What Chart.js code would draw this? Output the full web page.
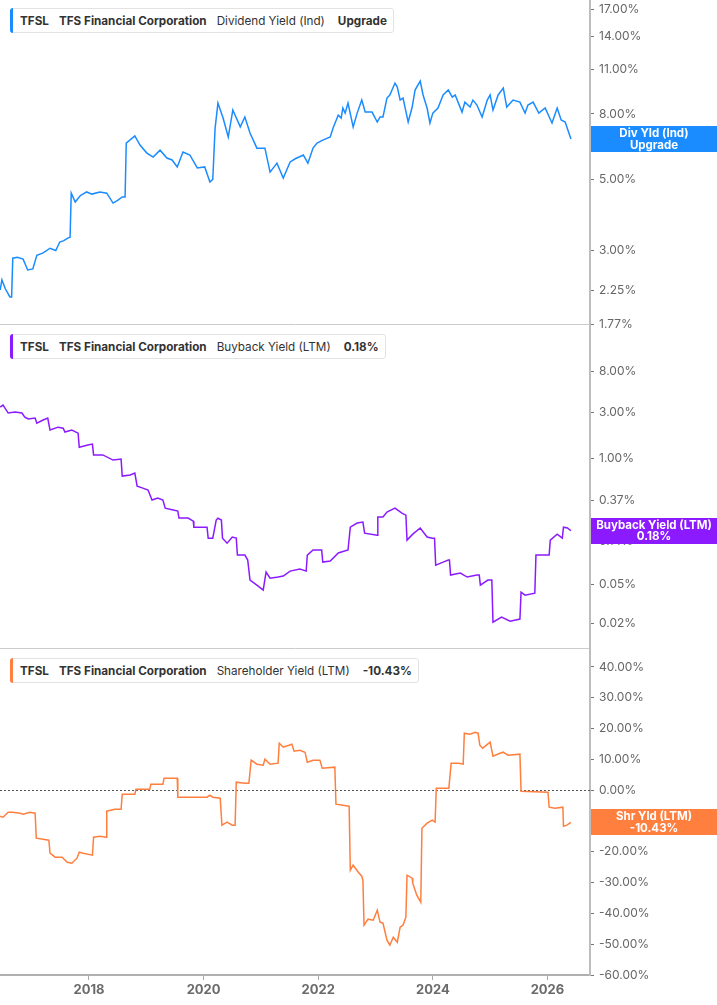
<!DOCTYPE html>
<html>
<head>
<meta charset="utf-8">
<script src="https://cdn.jsdelivr.net/npm/chart.js@4.4.1/dist/chart.umd.min.js"></script>
<style>
  html, body { margin: 0; padding: 0; background: #fff; }
  body { width: 717px; height: 1005px; position: relative; overflow: hidden; font-family: Inter, 'Noto Sans', sans-serif; }
  canvas { position: absolute; left: 0; }
  .legend {
    position: absolute; left: 10px; height: 25px; box-sizing: border-box;
    display: flex; align-items: center; gap: 10px; padding: 0 6px 0 9px;
    background: #fff; border: 1px solid #e3e3e3; border-radius: 3px;
    font-size: 11.7px; color: #333; white-space: nowrap; z-index: 2;
  }
  .legend::before {
    content: ''; position: absolute; left: -1px; top: -1px; bottom: -1px; width: 3px;
    border-radius: 3px 0 0 3px; background: var(--c);
  }
  .legend b { font-weight: 700; }
  .legend b:last-child { margin-left: 3px; }
</style>
</head>
<body>
<canvas id="divChart" width="717" height="340" style="top:0"></canvas>
<canvas id="buyChart" width="717" height="339" style="top:325px"></canvas>
<canvas id="shrChart" width="717" height="356" style="top:649px"></canvas>

<div class="legend" style="top:8px; --c:#1a8cff"><b>TFSL</b><b>TFS Financial Corporation</b><span>Dividend Yield (Ind)</span><b>Upgrade</b></div>
<div class="legend" style="top:334px; --c:#8c1aff"><b>TFSL</b><b>TFS Financial Corporation</b><span>Buyback Yield (LTM)</span><b>0.18%</b></div>
<div class="legend" style="top:658px; --c:#ff7f3f"><b>TFSL</b><b>TFS Financial Corporation</b><span>Shareholder Yield (LTM)</span><b>-10.43%</b></div>

<script>
// ── data (dates as decimal years, values in %) ──
const yearTicks = [2018, 2020, 2022, 2024, 2026];

const divDates = [
  2016.45, 2016.48, 2016.54, 2016.62, 2016.65, 2016.67, 2016.75, 2016.85, 2016.93, 2017.02,
  2017.09, 2017.20, 2017.32, 2017.42, 2017.49, 2017.56, 2017.63, 2017.67, 2017.69, 2017.76,
  2017.85, 2017.96, 2018.05, 2018.19, 2018.31, 2018.42, 2018.50, 2018.58, 2018.63, 2018.65,
  2018.80, 2018.89, 2019.01, 2019.12, 2019.24, 2019.36, 2019.45, 2019.54, 2019.64, 2019.76,
  2019.89, 2020.02, 2020.11, 2020.16, 2020.20, 2020.25, 2020.34, 2020.43, 2020.51, 2020.64,
  2020.72, 2020.81, 2020.93, 2021.07, 2021.16, 2021.28, 2021.39, 2021.51, 2021.60, 2021.74,
  2021.82, 2021.91,
  2021.98, 2022.08, 2022.21, 2022.26, 2022.35, 2022.40, 2022.43, 2022.47, 2022.52, 2022.61,
  2022.68, 2022.76, 2022.82, 2022.94, 2023.03, 2023.08, 2023.13, 2023.20, 2023.25, 2023.34,
  2023.38, 2023.43, 2023.48, 2023.57, 2023.64, 2023.69, 2023.78, 2023.83, 2023.90, 2023.95,
  2024.00, 2024.09, 2024.18, 2024.27, 2024.34, 2024.39, 2024.51, 2024.56, 2024.65, 2024.70,
  2024.77, 2024.86, 2024.95, 2025.00, 2025.05, 2025.14, 2025.23, 2025.29, 2025.40, 2025.52,
  2025.61, 2025.66, 2025.75, 2025.85, 2025.96, 2026.08, 2026.17, 2026.24, 2026.31, 2026.41
];
const divYield = [
  2.26, 2.43, 2.28, 2.15, 2.15, 2.84, 2.86, 2.82, 2.61, 2.63,
  2.90, 2.95, 3.05, 3.00, 3.19, 3.22, 3.28, 3.30, 4.53, 4.25,
  4.45, 4.57, 4.50, 4.57, 4.53, 4.22, 4.30, 4.41, 4.41, 6.49,
  6.83, 6.40, 6.04, 5.87, 6.17, 5.83, 5.75, 5.47, 6.09, 5.96,
  5.43, 5.47, 4.91, 5.00, 7.20, 8.65, 7.77, 6.78, 8.23, 7.29,
  7.83, 6.98, 6.26, 6.26, 5.27, 5.62, 5.05, 5.67, 5.80, 5.96,
  5.62, 6.26,
  6.49, 6.63, 6.78, 7.23, 7.94, 7.77, 8.35, 8.05, 8.65, 7.29,
  8.05, 8.84, 8.11, 8.11, 7.55, 7.83, 7.83, 8.97, 9.17, 9.99,
  9.71, 8.84, 8.97, 7.55, 8.41, 9.50, 10.13, 9.17, 8.35, 7.50,
  8.05, 8.35, 9.17, 9.50, 9.03, 9.17, 8.11, 8.71, 8.41, 8.84,
  8.53, 7.83, 8.84, 9.17, 8.23, 9.17, 9.64, 8.41, 8.84, 8.71,
  8.05, 8.53, 8.71, 8.05, 8.35, 7.50, 8.35, 7.66, 7.55, 6.68
];
const divTicks = [17, 14, 11, 8, 7, 5, 3, 2.25, 1.77];

const buyDates = [
  2016.45, 2016.50, 2016.59, 2016.71, 2016.83, 2016.88, 2016.94, 2017.06, 2017.09, 2017.20,
  2017.28, 2017.32, 2017.46, 2017.55, 2017.58, 2017.70, 2017.81, 2017.83, 2017.98, 2018.06,
  2018.08, 2018.24, 2018.42, 2018.56, 2018.58, 2018.72, 2018.80, 2018.84, 2018.94, 2019.03,
  2019.10, 2019.20, 2019.29, 2019.33, 2019.47, 2019.55, 2019.57, 2019.73, 2019.82, 2019.83,
  2020.06, 2020.08, 2020.16, 2020.22, 2020.25, 2020.31, 2020.33, 2020.41, 2020.50, 2020.57,
  2020.59, 2020.72, 2020.77, 2020.81, 2020.93, 2021.04, 2021.09, 2021.16, 2021.30, 2021.39,
  2021.51, 2021.68, 2021.79, 2021.81, 2021.91, 2022.06, 2022.08, 2022.21, 2022.35, 2022.52,
  2022.56, 2022.68, 2022.78, 2022.81, 2023.03, 2023.04, 2023.13, 2023.20, 2023.34, 2023.46,
  2023.53, 2023.55, 2023.65, 2023.78, 2023.90, 2023.99, 2024.03, 2024.05, 2024.18, 2024.27,
  2024.29, 2024.31, 2024.48, 2024.60, 2024.77, 2024.81, 2024.83, 2024.96, 2025.03, 2025.05,
  2025.20, 2025.35, 2025.52, 2025.54, 2025.61, 2025.78, 2025.80, 2025.92, 2026.03, 2026.05,
  2026.17, 2026.26, 2026.28, 2026.35, 2026.41
];
const buyYield = [
  3.40, 3.57, 2.95, 3.02, 2.95, 2.68, 2.56, 2.62, 2.32, 2.50,
  2.62, 1.97, 2.11, 2.06, 1.88, 1.97, 1.83, 1.31, 1.38, 1.41,
  1.09, 1.09, 0.965, 0.99, 0.66, 0.676, 0.709, 0.52, 0.496, 0.473,
  0.373, 0.391, 0.373, 0.308, 0.294, 0.287, 0.243, 0.243, 0.226, 0.196,
  0.196, 0.151, 0.151, 0.232, 0.243, 0.232, 0.151, 0.134, 0.155, 0.151,
  0.101, 0.101, 0.0897, 0.0557, 0.0495, 0.0439, 0.0674, 0.0584, 0.0599, 0.0613,
  0.069, 0.0724, 0.069, 0.101, 0.114, 0.114, 0.0855, 0.0876, 0.106, 0.114,
  0.196, 0.216, 0.221, 0.170, 0.162, 0.249, 0.249, 0.280, 0.308, 0.274,
  0.261, 0.144, 0.166, 0.192, 0.155, 0.151, 0.151, 0.0796, 0.0855, 0.0897,
  0.0897, 0.0628, 0.0658, 0.0599, 0.0628, 0.0628, 0.0495, 0.0557, 0.0557, 0.0205,
  0.0231, 0.021, 0.0221, 0.0419, 0.039, 0.0409, 0.101, 0.101, 0.101, 0.144,
  0.166, 0.151, 0.196, 0.192, 0.18
];
const buyTicks = [8, 3, 1, 0.37, 0.14, 0.05, 0.02];

const shrDates = [
  2016.45, 2016.50, 2016.59, 2016.67, 2016.80, 2016.85, 2016.97, 2017.06, 2017.08, 2017.20,
  2017.30, 2017.32, 2017.41, 2017.53, 2017.62, 2017.70, 2017.79, 2017.83, 2017.90, 2018.06,
  2018.08, 2018.19, 2018.30, 2018.31, 2018.45, 2018.56, 2018.58, 2018.80, 2018.82, 2019.06,
  2019.08, 2019.29, 2019.31, 2019.54, 2019.55, 2020.06, 2020.11, 2020.16, 2020.29, 2020.32,
  2020.41, 2020.50, 2020.55, 2020.57, 2020.72, 2020.79, 2020.83, 2020.93, 2021.04, 2021.07,
  2021.16, 2021.30, 2021.32, 2021.39, 2021.54, 2021.58, 2021.68, 2021.77, 2021.81, 2021.91,
  2022.03, 2022.07, 2022.29, 2022.31, 2022.43, 2022.54, 2022.56, 2022.61, 2022.70, 2022.76,
  2022.78, 2022.80, 2022.87, 2022.96, 2023.03, 2023.08, 2023.13, 2023.20, 2023.25, 2023.31,
  2023.38, 2023.43, 2023.48, 2023.53, 2023.55, 2023.64, 2023.65, 2023.72, 2023.79, 2023.81,
  2023.90, 2023.99, 2024.04, 2024.06, 2024.28, 2024.32, 2024.45, 2024.53, 2024.55, 2024.65,
  2024.74, 2024.79, 2024.82, 2024.87, 2025.00, 2025.05, 2025.17, 2025.23, 2025.31, 2025.52,
  2025.54, 2026.01, 2026.03, 2026.13, 2026.27, 2026.28, 2026.34, 2026.41
];
const shrYield = [
  -8.44, -8.77, -7.14, -7.14, -7.47, -7.79, -7.14, -7.47, -15.58, -15.91,
  -16.23, -20.45, -21.75, -21.75, -23.38, -23.70, -22.08, -20.13, -20.45, -21.10,
  -15.26, -14.94, -15.26, -6.82, -6.17, -6.17, -1.30, -1.30, 0.32, 0.32,
  1.95, 1.95, 3.90, 3.90, -2.27, -2.27, -1.62, -2.27, -2.60, -11.36,
  -10.39, -11.36, -11.36, 2.60, 2.27, 2.27, 9.74, 8.44, 8.12, 10.06,
  8.44, 8.77, 15.26, 13.96, 14.94, 12.66, 12.99, 12.34, 9.09, 9.74,
  9.74, 7.14, 7.47, -4.55, -4.87, -5.19, -25.97, -24.35, -26.62, -27.92,
  -29.22, -43.83, -41.88, -42.21, -38.96, -42.86, -43.18, -48.70, -50.32, -47.73,
  -49.35, -44.48, -43.83, -41.23, -27.60, -28.57, -30.19, -34.09, -36.36, -12.34,
  -10.71, -9.74, -10.39, 0.65, 0.65, 8.77, 8.77, 8.44, 18.51, 18.18,
  18.83, 18.51, 14.61, 13.64, 15.58, 11.04, 12.01, 12.34, 11.36, 11.69,
  -0.32, -0.65, -5.52, -5.84, -5.52, -11.69, -11.36, -10.43
];
const shrTicks = [40, 30, 20, 10, 0, -10, -20, -30, -40, -50, -60];

// ── helpers ──
const FONT = "Inter, 'Noto Sans', sans-serif";
const X_MIN = 2016.447, X_MAX = 2026.743;

// coloured tag on the right axis at the last value of the series
const lastTag = {
  id: 'lastTag',
  afterDraw(chart, args, opts) {
    if (!opts.lines) return;
    const pts = chart.data.datasets[0].data;
    const y = chart.scales.y.getPixelForValue(pts[pts.length - 1].y);
    const { ctx, chartArea } = chart;
    const x0 = chartArea.right + 1, w = chart.width - x0, h = 26;
    ctx.save();
    ctx.fillStyle = opts.color;
    ctx.fillRect(x0, Math.round(y - h / 2), w, h);
    ctx.fillStyle = '#fff';
    ctx.font = `bold 11.5px ${FONT}`;
    ctx.textAlign = 'center';
    ctx.textBaseline = 'middle';
    ctx.fillText(opts.lines[0], x0 + w / 2, y - 5.5);
    ctx.fillText(opts.lines[1], x0 + w / 2, y + 6);
    ctx.restore();
  }
};

// dotted zero line
const zeroLine = {
  id: 'zeroLine',
  beforeDatasetsDraw(chart, args, opts) {
    if (!opts.show) return;
    const { ctx, chartArea } = chart;
    const y = Math.round(chart.scales.y.getPixelForValue(0)) + 0.5;
    ctx.save();
    ctx.strokeStyle = '#555';
    ctx.lineWidth = 1;
    ctx.setLineDash([2, 2]);
    ctx.beginPath();
    ctx.moveTo(chartArea.left, y);
    ctx.lineTo(chartArea.right, y);
    ctx.stroke();
    ctx.restore();
  }
};

function panel(id, dates, values, o) {
  const showX = !!o.showX;
  return new Chart(document.getElementById(id), {
    type: 'line',
    data: {
      datasets: [{
        data: dates.map((x, i) => ({ x, y: values[i] })),
        borderColor: o.color,
        borderWidth: 1.5,
        pointRadius: 0,
        tension: 0,
        fill: false,
      }],
    },
    options: {
      responsive: false,
      animation: false,
      parsing: false,
      events: [],
      layout: { padding: 0 },
      plugins: {
        legend: { display: false },
        tooltip: { enabled: false },
        lastTag: { color: o.color, lines: o.tag },
        zeroLine: { show: !!o.zero },
      },
      scales: {
        x: {
          type: 'linear',
          min: X_MIN,
          max: X_MAX,
          afterBuildTicks: s => { s.ticks = yearTicks.map(value => ({ value })); },
          afterFit: s => { s.height = o.xHeight; s.paddingLeft = 0; s.paddingRight = 0; },
          ticks: {
            display: showX,
            autoSkip: false,
            maxRotation: 0,
            padding: 2,
            color: '#6b6b6b',
            font: { family: FONT, size: 13, weight: 'bold' },
            callback: v => String(v),
          },
          grid: { drawOnChartArea: false, drawTicks: showX, tickLength: 5, tickColor: '#aaa' },
          border: { color: showX ? '#b0b0b0' : '#cccccc', width: showX ? 2 : 1 },
        },
        y: {
          type: o.log ? 'logarithmic' : 'linear',
          position: 'right',
          min: o.min,
          max: o.max,
          afterBuildTicks: s => { s.ticks = o.ticks.map(value => ({ value })); },
          // fixed axis width, and no extra room reserved for the end labels
          afterFit: s => { s.width = 127; s.paddingTop = 0; s.paddingBottom = 0; },
          ticks: {
            autoSkip: false,
            padding: 5,
            color: '#666',
            font: { family: FONT, size: 12 },
            callback: v => Number(v).toFixed(2) + '%',
          },
          grid: { drawOnChartArea: false, drawTicks: true, tickLength: 4, tickColor: '#777' },
          border: { color: '#bdbdbd', width: 2 },
        },
      },
    },
    plugins: [zeroLine, lastTag],
  });
}

panel('divChart', divDates, divYield, {
  color: '#1a8cff', log: true, min: 1.77, max: 18.14, ticks: divTicks,
  xHeight: 16, tag: ['Div Yld (Ind)', 'Upgrade'],
});
panel('buyChart', buyDates, buyYield, {
  color: '#8c1aff', log: true, min: 0.0111, max: 23.9, ticks: buyTicks,
  xHeight: 16, tag: ['Buyback Yield (LTM)', '0.18%'],
});
panel('shrChart', shrDates, shrYield, {
  color: '#ff7f3f', log: false, min: -60, max: 45.84, ticks: shrTicks,
  xHeight: 30, showX: true, zero: true, tag: ['Shr Yld (LTM)', '-10.43%'],
});
</script>
</body>
</html>
